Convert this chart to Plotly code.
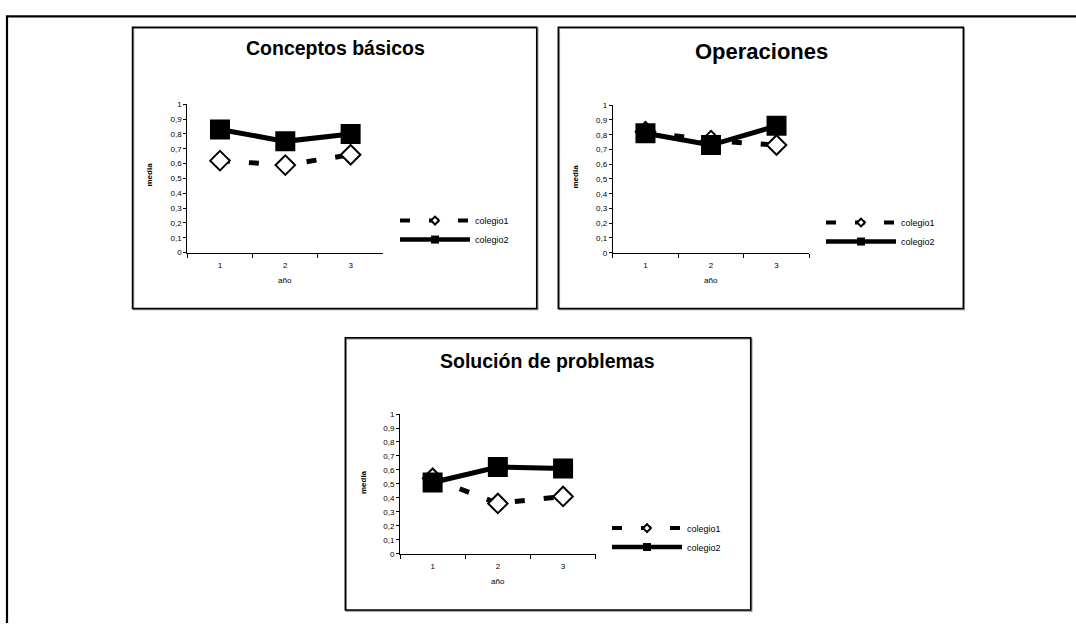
import plotly.graph_objects as go

W, H = 1076, 628

# ---- data ----
anios = ["1", "2", "3"]
titulos = ["Conceptos básicos", "Operaciones", "Solución de problemas"]
series_names = ["colegio1", "colegio2"]
colegio1_conceptos = [0.62, 0.59, 0.66]
colegio2_conceptos = [0.83, 0.75, 0.80]
colegio1_operaciones = [0.82, 0.76, 0.73]
colegio2_operaciones = [0.81, 0.73, 0.86]
colegio1_problemas = [0.54, 0.36, 0.41]
colegio2_problemas = [0.51, 0.62, 0.61]
y_tick_vals = [0, 0.1, 0.2, 0.3, 0.4, 0.5, 0.6, 0.7, 0.8, 0.9, 1]

valores = [
    (colegio1_conceptos, colegio2_conceptos),
    (colegio1_operaciones, colegio2_operaciones),
    (colegio1_problemas, colegio2_problemas),
]

# ---- layout geometry (pixels) ----
def fx(p):
    return p / W

def fy(p):
    return 1 - p / H

panels = [
    dict(box=(132.5, 23.5, 536.7, 309), plot=(187.3, 383.3, 101.7, 252.3),
         title=(335, 45, 19.5), ytitle=(150, 173), xtitle=(285, 281), legend=(395, 205)),
    dict(box=(558.3, 23.5, 963.3, 309), plot=(612.7, 809.3, 102.7, 252.3),
         title=(761, 48, 22), ytitle=(575, 175), xtitle=(711, 281), legend=(821, 207)),
    dict(box=(345.3, 338.7, 750.7, 614.7), plot=(400.0, 595.7, 416.0, 557.7),
         title=(547, 362, 19.5), ytitle=(363, 485), xtitle=(498, 586), legend=(607, 517)),
]

FONT = "Liberation Sans, Arial, sans-serif"

fig = go.Figure()
layout = dict(
    width=W, height=H,
    margin=dict(l=0, r=0, t=0, b=0),
    paper_bgcolor="white", plot_bgcolor="white",
    separators=",.",
    font=dict(family=FONT, color="black", size=8),
    shapes=[], annotations=[],
)

for i, (p, (c1, c2)) in enumerate(zip(panels, valores)):
    k = "" if i == 0 else str(i + 1)
    xa, ya = "x" + k, "y" + k
    lg = "legend" + k
    x0, x1, ytop, ybot = p["plot"]
    layout["xaxis" + k] = dict(
        domain=[fx(x0), fx(x1)], anchor=ya, type="category",
        range=[-0.5, 2.5], tickson="boundaries", ticks="outside", ticklen=4,
        tickcolor="black", showline=True, linecolor="black", linewidth=1,
        showgrid=False, zeroline=False, fixedrange=True, ticklabelstandoff=5,
        tickfont=dict(size=8, family=FONT),
    )
    layout["yaxis" + k] = dict(
        domain=[fy(ybot), fy(ytop)], anchor=xa, range=[0, 1],
        tickvals=y_tick_vals, ticks="outside", ticklen=3, tickcolor="black",
        showline=True, linecolor="black", linewidth=1, showgrid=False,
        zeroline=False, fixedrange=True, tickfont=dict(size=8, family=FONT),
    )
    lx, ly = p["legend"]
    layout[lg] = dict(
        x=fx(lx), y=fy(ly), xanchor="left", yanchor="top",
        bgcolor="rgba(0,0,0,0)", font=dict(size=9, family=FONT),
        itemwidth=70, tracegroupgap=0,
    )
    # data traces
    fig.add_trace(go.Scatter(
        x=anios, y=c1, name=series_names[0], xaxis=xa, yaxis=ya,
        mode="lines+markers", showlegend=False,
        line=dict(color="black", width=5, dash="10px,19px"),
        marker=dict(symbol="diamond", size=15, color="white",
                    line=dict(color="black", width=2)),
    ))
    fig.add_trace(go.Scatter(
        x=anios, y=c2, name=series_names[1], xaxis=xa, yaxis=ya,
        mode="lines+markers", showlegend=False,
        line=dict(color="black", width=5),
        marker=dict(symbol="square", size=20, color="black",
                    line=dict(color="black", width=0)),
    ))
    # legend entries (no data points, smaller legend symbols)
    fig.add_trace(go.Scatter(
        x=[None], y=[None], name=series_names[0], xaxis=xa, yaxis=ya, legend=lg,
        mode="lines+markers", showlegend=True,
        line=dict(color="black", width=4, dash="10px,19px"),
        marker=dict(symbol="diamond", size=6, color="white",
                    line=dict(color="black", width=2)),
    ))
    fig.add_trace(go.Scatter(
        x=[None], y=[None], name=series_names[1], xaxis=xa, yaxis=ya, legend=lg,
        mode="lines+markers", showlegend=True,
        line=dict(color="black", width=4.5),
        marker=dict(symbol="square", size=8, color="black",
                    line=dict(color="black", width=0)),
    ))
    # panel frame
    bx0, by0, bx1, by1 = p["box"]
    layout["shapes"].append(dict(
        type="rect", xref="paper", yref="paper",
        x0=fx(bx0 + 1), x1=fx(bx1 + 1), y0=fy(by1 + 1), y1=fy(by0 + 1),
        line=dict(color="#888888", width=1.5), layer="below"))
    layout["shapes"].append(dict(
        type="rect", xref="paper", yref="paper",
        x0=fx(bx0), x1=fx(bx1), y0=fy(by1), y1=fy(by0),
        line=dict(color="black", width=1.5), layer="below"))
    tx, ty, ts = p["title"]
    layout["annotations"].append(dict(
        text="<b>%s</b>" % titulos[i], x=fx(tx), y=fy(ty), xref="paper", yref="paper",
        showarrow=False, xanchor="center", yanchor="middle",
        font=dict(size=ts, family=FONT, color="black")))
    yx, yy = p["ytitle"]
    layout["annotations"].append(dict(
        text="<b>media</b>", x=fx(yx), y=fy(yy), xref="paper", yref="paper",
        showarrow=False, textangle=-90, xanchor="center", yanchor="middle",
        font=dict(size=8, family=FONT, color="black")))
    xx, xy = p["xtitle"]
    layout["annotations"].append(dict(
        text="año", x=fx(xx), y=fy(xy), xref="paper", yref="paper",
        showarrow=False, xanchor="center", yanchor="middle",
        font=dict(size=8, family=FONT, color="black")))

# outer page frame (top and left edges)
layout["shapes"].append(dict(
    type="path", xref="paper", yref="paper",
    path="M %f,%f L %f,%f L %f,%f" % (fx(7), 0, fx(7), fy(12.5), 1.0, fy(12.5)),
    line=dict(color="black", width=2.2)))

fig.update_layout(**layout)
fig.write_html(
    "out.html",
    config={"displayModeBar": False},
    post_script="document.body.style.margin='0';document.body.style.overflow='hidden';",
)
